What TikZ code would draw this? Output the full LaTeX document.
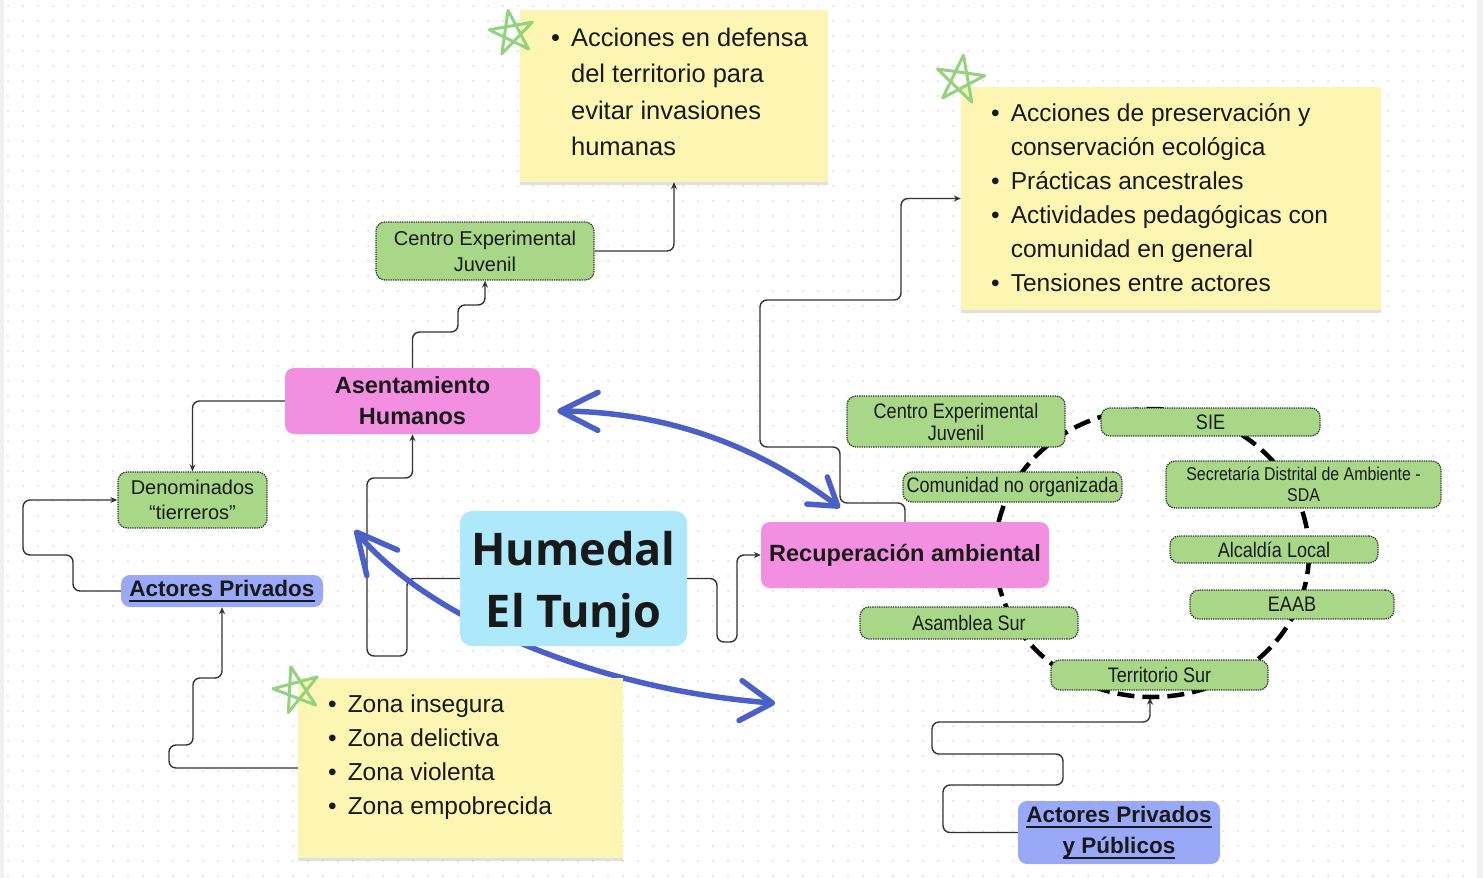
\documentclass[tikz,border=0pt]{standalone}
\usepackage{fontspec}
\setmainfont{Liberation Sans}
\newfontfamily\tunjofont{Open Sans}
\newfontfamily\narrowfont[FakeStretch=0.86]{Liberation Sans}
\newcommand{\undertext}[1]{\setbox0\hbox{#1}\rlap{\vrule width\wd0 height -3.5pt depth 5pt}\box0}
\usetikzlibrary{arrows.meta,shadows}
\definecolor{nodegreen}{HTML}{A8D887}
\definecolor{nodepink}{HTML}{F28FE0}
\definecolor{nodecyan}{HTML}{ADE8FB}
\definecolor{nodeblue}{HTML}{9AA8F8}
\definecolor{stickyyellow}{HTML}{FDF6B2}
\definecolor{arrowblue}{HTML}{4A5FC8}
\definecolor{stargreen}{HTML}{93D27E}
\definecolor{linkgray}{HTML}{333333}
\pgfdeclarelayer{grid}
\pgfdeclarelayer{links}
\pgfsetlayers{grid,links,main}
\begin{document}
\begin{tikzpicture}[x=1pt,y=-1pt,
    box/.style={rounded corners=9pt, inner sep=0pt, align=center, text=black!90},
    greenbox/.style={box, draw=black!80, densely dotted, line width=1.3pt, fill=nodegreen, font=\fontsize{20}{26}\selectfont},
    greennarrow/.style={greenbox, font=\narrowfont\fontsize{21}{22}\selectfont},
    pinkbox/.style={box, fill=nodepink, font=\bfseries\fontsize{23.5}{31}\selectfont},
    bluebox/.style={box, fill=nodeblue, font=\bfseries\fontsize{22.5}{31}\selectfont},
    cyanbox/.style={box, fill=nodecyan, rounded corners=12pt, font=\tunjofont\bfseries\fontsize{45}{62}\selectfont},
    sticky/.style={fill=stickyyellow, inner sep=0pt, drop shadow={shadow xshift=0pt, shadow yshift=-3pt, opacity=0.12, fill=black}},
    notetext/.style={inner sep=0pt, text=black!90, font=\fontsize{24.5}{34}\selectfont},
    link/.style={draw=linkgray, line width=1.4pt, rounded corners=7pt, -{Stealth[length=7pt,width=6pt]}},
    bluearrow/.style={draw=arrowblue, line width=5.5pt, line cap=round, line join=round},
    star/.style={draw=stargreen, line width=3pt, line join=round, line cap=round}]
  \useasboundingbox (0,0) rectangle (1483,878);
  \fill[gray!12] (0,0) rectangle (4,878);
  \fill[gray!12] (1477,0) rectangle (1483,878);

  \begin{pgfonlayer}{grid}
    \foreach \i in {0,...,98}
      \foreach \j in {0,...,58}
        \fill[gray!30] (\i*15+8,\j*15+6) circle (1pt);
  \end{pgfonlayer}

  \draw[black, line width=4.5pt, dash pattern=on 17pt off 8pt] (1152,553) ellipse [x radius=157pt, y radius=144pt];

  \node[sticky, minimum width=308pt, minimum height=172pt] (st1) at (674,96) {};
  \node[sticky, minimum width=420pt, minimum height=223pt] (st2) at (1171,198.5) {};
  \node[sticky, minimum width=325pt, minimum height=180pt] (st3) at (460.5,768) {};

  \node[notetext, anchor=base west, font=\fontsize{25.5}{36.6}\selectfont] (st1txt) at (551,46) {\begin{tabular}[t]{@{}l@{\hspace{11pt}}l@{}}
    \textbullet & Acciones en defensa\\
     & del territorio para\\
     & evitar invasiones\\
     & humanas
  \end{tabular}};
  \node[notetext, anchor=base west] (st2txt) at (991,121) {\begin{tabular}[t]{@{}l@{\hspace{11pt}}l@{}}
    \textbullet & Acciones de preservación y\\
     & conservación ecológica\\
    \textbullet & Prácticas ancestrales\\
    \textbullet & Actividades pedagógicas con\\
     & comunidad en general\\
    \textbullet & Tensiones entre actores
  \end{tabular}};
  \node[notetext, anchor=base west] (st3txt) at (328,712) {\begin{tabular}[t]{@{}l@{\hspace{11pt}}l@{}}
    \textbullet & Zona insegura\\
    \textbullet & Zona delictiva\\
    \textbullet & Zona violenta\\
    \textbullet & Zona empobrecida
  \end{tabular}};

  \node[greenbox, minimum width=218pt, minimum height=58pt] (cej1) at (485,251) {Centro Experimental\\Juvenil};
  \node[greenbox, minimum width=149pt, minimum height=56pt, font=\fontsize{20}{25}\selectfont] (den) at (192.5,500) {Denominados\\“tierreros”};
  \node[pinkbox, minimum width=255pt, minimum height=66pt] (ase) at (412.5,401) {Asentamiento\\Humanos};
  \node[cyanbox, minimum width=227pt, minimum height=135pt] (hum) at (573.5,578.5) {\raisebox{-6pt}[\height][\depth]{\begin{tabular}{@{}c@{}}Humedal\\El Tunjo\end{tabular}}};
  \node[pinkbox, minimum width=288pt, minimum height=66pt] (rec) at (905,555) {Recuperación ambiental};
  \node[bluebox, minimum width=202pt, minimum height=32pt] (apl) at (222,591) {\undertext{Actores Privados}};
  \node[bluebox, minimum width=202pt, minimum height=63pt] (app) at (1119,832.5) {\undertext{Actores Privados}\\\undertext{y Públicos}};

  \node[greennarrow, minimum width=218pt, minimum height=51pt] (cej2) at (956,421.5) {Centro Experimental\\Juvenil};
  \node[greennarrow, minimum width=219pt, minimum height=28pt] (sie) at (1210.5,422) {SIE};
  \node[greennarrow, minimum width=219pt, minimum height=30pt] (com) at (1012.5,487) {Comunidad no organizada};
  \node[greennarrow, minimum width=275pt, minimum height=47pt, font=\narrowfont\fontsize{18.5}{21}\selectfont] (sda) at (1303.5,484.5) {Secretaría Distrital de Ambiente -\\SDA};
  \node[greennarrow, minimum width=208pt, minimum height=27pt] (alc) at (1274,549.5) {Alcaldía Local};
  \node[greennarrow, minimum width=204pt, minimum height=29pt] (eaab) at (1292,604.5) {EAAB};
  \node[greennarrow, minimum width=218pt, minimum height=32pt] (asa) at (969,623) {Asamblea Sur};
  \node[greennarrow, minimum width=217pt, minimum height=30pt] (ter) at (1159.5,675) {Territorio Sur};

  \begin{pgfonlayer}{links}
    \draw[link] (hum.west) -- (407,578.5) -- (407,656) -- (367,656) -- (367,478) -- (412.5,478) -- (ase.south);
    \draw[link] (hum.east) -- (717,578.5) -- (717,642) -- (737,642) -- (737,555) -- (rec.west);
    \draw[link] (ase.north) -- (412.5,332) -- (458,332) -- (458,305) -- (485,305) -- (cej1.south);
    \draw[link] (cej1.east) -- (674,251) -- (st1.south);
    \draw[link] (ase.west) -- (192.5,401) -- (den.north);
    \draw[link] (apl.west) -- (73,591) -- (73,555) -- (23,555) -- (23,500) -- (den.west);
    \draw[link] (st3.west) -- (169,768) -- (169,745) -- (193,745) -- (193,678) -- (222,678) -- (apl.south);
    \draw[link] (rec.north) -- (905,503) -- (840,503) -- (840,447) -- (760,447) -- (760,300) -- (901,300) -- (901,198.5) -- (st2.west);
    \draw[link] (app.west) -- (943,832.5) -- (943,785) -- (1063,785) -- (1063,754) -- (932,754) -- (932,722) -- (1150,722) -- ([xshift=-9.5pt,yshift=-7pt]ter.south);

    \draw[bluearrow, {Straight Barb[length=38pt,width=38pt,round]}-{Straight Barb[length=26pt,width=34pt,round]}]
      ([xshift=17pt,yshift=-10pt]ase.east) .. controls (680,412) and (770,455) .. ([xshift=-65pt,yshift=14pt]rec.north);
    \draw[bluearrow, {Straight Barb[length=40pt,width=40pt,round]}-{Straight Barb[length=32pt,width=40pt,round]}]
      ([xshift=-105pt,yshift=48.5pt]hum.west) .. controls (430,620) and (600,690) .. ([xshift=88pt,yshift=-57pt]hum.south east);
  \end{pgfonlayer}

  \foreach \cx/\cy/\r/\t in {512/33/23/10, 960/80/25/-8, 297/690/24/15}
    \draw[star, rotate around={\t:(\cx,\cy)}] (\cx,\cy) +(270:\r) -- +(54:\r) -- +(198:\r) -- +(342:\r) -- +(126:\r) -- cycle;
\end{tikzpicture}
\end{document}
